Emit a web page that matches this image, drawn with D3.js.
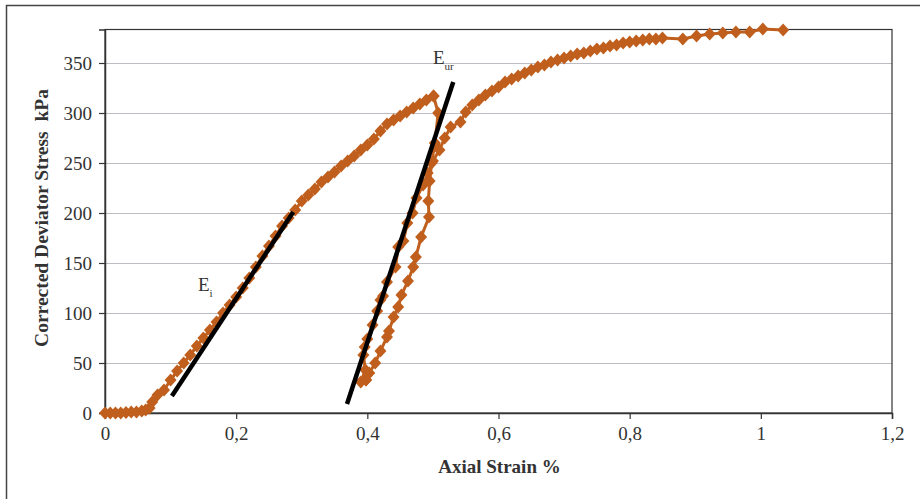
<!DOCTYPE html>
<html>
<head>
<meta charset="utf-8">
<script src="https://cdn.jsdelivr.net/npm/d3@7"></script>
<style>
body { margin: 0; background: #fff; }
text { font-family: "Liberation Serif", "DejaVu Serif", serif; fill: #333; }
</style>
</head>
<body>
<svg id="chart" width="920" height="499"></svg>
<script>
// loading branch up to the unload point
var loadStrain = [0, 0.008, 0.016, 0.024, 0.032, 0.04, 0.048, 0.056, 0.062, 0.068, 0.072, 0.08, 0.09, 0.1, 0.11, 0.12, 0.13, 0.14, 0.15, 0.16, 0.17, 0.18, 0.19, 0.2, 0.21, 0.22, 0.23, 0.24, 0.25, 0.26, 0.27, 0.28, 0.29, 0.3, 0.31, 0.32, 0.33, 0.34, 0.35, 0.36, 0.37, 0.38, 0.39, 0.4, 0.41, 0.42, 0.43, 0.44, 0.45, 0.46, 0.47, 0.48, 0.49, 0.501];
var loadStress = [0, 0, 0, 0, 0.5, 1, 1, 2, 3, 5, 11, 18, 23, 33, 42, 50, 58, 67, 75, 83, 91, 100, 108, 116, 125, 135, 146, 157, 167, 177, 187, 195, 203, 212, 218, 224, 231, 236, 241, 247, 252, 257, 263, 268, 274, 282, 289, 293, 297, 301, 305, 309, 313, 317];
// unloading branch
var unloadStrain = [0.508, 0.503, 0.498, 0.495, 0.493, 0.494, 0.482, 0.474, 0.47, 0.462, 0.452, 0.447, 0.44, 0.433, 0.43, 0.42, 0.412, 0.403, 0.398];
var unloadStress = [300, 270, 250, 232, 212, 196, 176, 156, 146, 132, 118, 106, 96, 82, 76, 62, 50, 40, 33];
// reloading branch and continued loading
var reloadStrain = [0.39, 0.397, 0.394, 0.396, 0.4, 0.408, 0.415, 0.42, 0.424, 0.43, 0.443, 0.447, 0.455, 0.461, 0.469, 0.475, 0.485, 0.492, 0.5, 0.51, 0.518, 0.527, 0.542, 0.55, 0.56, 0.57, 0.58, 0.59, 0.6, 0.61, 0.62, 0.63, 0.64, 0.65, 0.66, 0.67, 0.68, 0.69, 0.7, 0.71, 0.72, 0.73, 0.74, 0.75, 0.76, 0.77, 0.78, 0.79, 0.8, 0.81, 0.82, 0.83, 0.84, 0.85, 0.881, 0.902, 0.922, 0.942, 0.962, 0.983, 1.003, 1.034];
var reloadStress = [31, 43, 58, 66, 74, 88, 102, 113, 117, 131, 146, 166, 172, 190, 200, 215, 228, 240, 252, 263, 275, 286, 291, 301, 308, 313, 318, 322, 326, 331, 334, 337, 340, 343, 346, 348, 351, 353, 355, 357, 359, 360, 362, 364, 365, 367, 368, 370, 371, 372, 373, 374, 374, 375, 374, 377, 379, 380, 381, 381, 384, 383];

// tangent lines: initial modulus and unload-reload modulus
var eiLine = [[0.102, 17], [0.287, 201]];
var eurLine = [[0.369, 9], [0.531, 331]];

var xTicks = [0, 0.2, 0.4, 0.6, 0.8, 1, 1.2];
var yTicks = [0, 50, 100, 150, 200, 250, 300, 350];

var orange = '#c05f1d';
var plotL = 105, plotR = 892, plotT = 29.5, plotB = 413;

var svg = d3.select('#chart');

// outer frame
svg.append('rect').attr('x', 6.5).attr('y', 5.5).attr('width', 940).attr('height', 520)
    .attr('fill', 'none').attr('stroke', '#444').attr('stroke-width', 1.5);

var x = d3.scaleLinear().domain([0, 1.2]).range([plotL, plotR]);
var y = d3.scaleLinear().domain([0, 383.5]).range([plotB, plotT]);

var fmt = function(d){ return String(d).replace('.', ','); };

// grid
svg.append('g').selectAll('line').data(yTicks.filter(function(d){return d > 0;}))
    .enter().append('line')
    .attr('x1', plotL).attr('x2', plotR)
    .attr('y1', function(d){return Math.round(y(d)) + 0.5;}).attr('y2', function(d){return Math.round(y(d)) + 0.5;})
    .attr('stroke', '#bdbdc3').attr('stroke-width', 1.2);

// plot border
svg.append('rect').attr('x', plotL).attr('y', plotT).attr('width', plotR - plotL).attr('height', plotB - plotT)
    .attr('fill', 'none').attr('stroke', '#333').attr('stroke-width', 1.2);

var xAxis = svg.append('g').attr('transform', 'translate(0,' + plotB + ')')
    .call(d3.axisBottom(x).tickValues(xTicks).tickFormat(fmt).tickSize(6).tickPadding(8));
var yAxis = svg.append('g').attr('transform', 'translate(' + plotL + ',0)')
    .call(d3.axisLeft(y).tickValues(yTicks).tickSize(6).tickPadding(7));
[xAxis, yAxis].forEach(function(a){
    a.select('.domain').attr('stroke', '#333').attr('stroke-width', 1.5);
    a.selectAll('.tick line').attr('stroke', '#333').attr('stroke-width', 1.2);
    a.selectAll('.tick text').attr('font-family', '"Liberation Serif", serif').attr('font-size', 19).attr('fill', '#333');
});

// data
var series = [
    d3.zip(loadStrain, loadStress),
    [[loadStrain[loadStrain.length-1], loadStress[loadStress.length-1]]].concat(d3.zip(unloadStrain, unloadStress)),
    [[unloadStrain[unloadStrain.length-1], unloadStress[unloadStress.length-1]]].concat(d3.zip(reloadStrain, reloadStress))
];
var line = d3.line().x(function(d){return x(d[0]);}).y(function(d){return y(d[1]);});
var diamond = 'M0,-6.5L6,0L0,6.5L-6,0Z';

series.forEach(function(s){
    svg.append('path').datum(s).attr('d', line)
        .attr('fill', 'none').attr('stroke', orange).attr('stroke-width', 3);
});
series.forEach(function(s){
    svg.append('g').selectAll('path').data(s).enter().append('path')
        .attr('d', diamond)
        .attr('transform', function(d){return 'translate(' + x(d[0]) + ',' + y(d[1]) + ')';})
        .attr('fill', orange);
});

// tangent lines
[eiLine, eurLine].forEach(function(l){
    svg.append('path').datum(l).attr('d', line)
        .attr('stroke', '#000').attr('stroke-width', 4.5).attr('fill', 'none');
});

// labels
var ei = svg.append('text').attr('x', 198).attr('y', 291).attr('font-size', 19);
ei.append('tspan').text('E');
ei.append('tspan').attr('dy', 6).attr('font-size', 11).text('i');
var eur = svg.append('text').attr('x', 433).attr('y', 64).attr('font-size', 19);
eur.append('tspan').text('E');
eur.append('tspan').attr('dy', 6).attr('font-size', 11).text('ur');

svg.append('text').attr('x', (plotL + plotR) / 2 + 1).attr('y', 473)
    .attr('text-anchor', 'middle').attr('font-weight', 'bold').attr('font-size', 19)
    .text('Axial Strain %');
svg.append('text').attr('transform', 'translate(48,' + 218 + ') rotate(-90)')
    .attr('text-anchor', 'middle').attr('font-weight', 'bold').attr('font-size', 19.5)
    .attr('xml:space', 'preserve').style('white-space', 'pre')
    .text('Corrected Deviator Stress  kPa');
</script>
</body>
</html>
